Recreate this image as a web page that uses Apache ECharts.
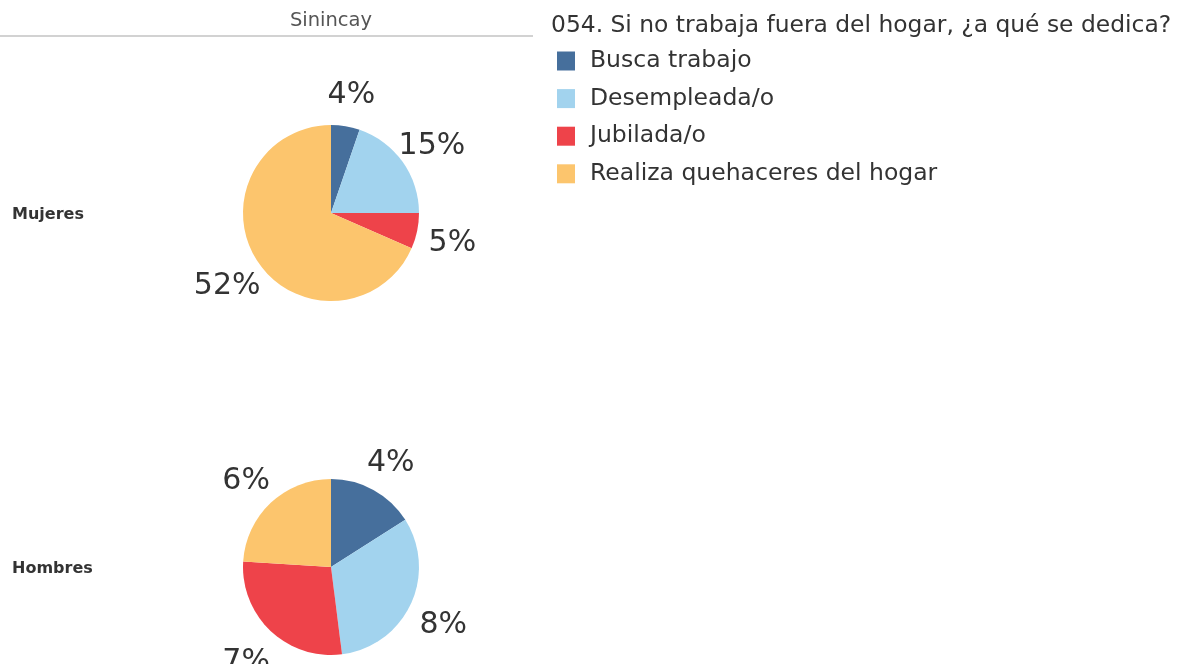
<!DOCTYPE html>
<html>
<head>
<meta charset="utf-8">
<title>054. Si no trabaja fuera del hogar</title>
<script src="https://cdn.jsdelivr.net/npm/echarts@6/dist/echarts.min.js"></script>
<style>
  html, body { margin: 0; padding: 0; background: #fff; }
  #chart { width: 1183px; height: 664px; }
</style>
</head>
<body>
<div id="chart"></div>
<script>
// Survey question, column header and row groups
const questionTitle = '054. Si no trabaja fuera del hogar, ¿a qué se dedica?';
const columnHeader = 'Sinincay';
const groups = ['Mujeres', 'Hombres'];

// Answer categories and their colours
const categories = ['Busca trabajo', 'Desempleada/o', 'Jubilada/o', 'Realiza quehaceres del hogar'];
const colors = ['#466f9c', '#a2d3ee', '#ee434a', '#fcc56d'];

// Share of all respondents (%) per answer, one array per group
const mujeresValues = [4, 15, 5, 52];
const hombresValues = [4, 8, 7, 6];
const groupValues = [mujeresValues, hombresValues];

const FONT = 'DejaVu Sans';
const pieCenters = [[331, 213], [331, 567]];
const pieRadius = 88;
const labelRadius = 124;

const chart = echarts.init(document.getElementById('chart'));

// Place each value label on its slice's bisector, just outside the pie
function radialLabel(params) {
  const vals = groupValues[params.seriesIndex];
  const total = vals.reduce((a, b) => a + b, 0);
  let before = 0;
  for (let i = 0; i < params.dataIndex; i++) before += vals[i];
  const mid = (before + vals[params.dataIndex] / 2) / total * Math.PI * 2;
  const c = pieCenters[params.seriesIndex];
  return {
    x: c[0] + labelRadius * Math.sin(mid),
    y: c[1] - labelRadius * Math.cos(mid) + 5,
    align: 'center',
    verticalAlign: 'middle'
  };
}

const series = groups.map((g, gi) => ({
  name: g,
  type: 'pie',
  center: pieCenters[gi],
  radius: [0, pieRadius],
  startAngle: 90,
  clockwise: true,
  avoidLabelOverlap: false,
  silent: true,
  itemStyle: { borderWidth: 0 },
  label: {
    show: true,
    position: 'outside',
    formatter: '{c}%',
    fontFamily: FONT,
    fontSize: 30,
    color: '#333333'
  },
  labelLine: { show: false },
  labelLayout: radialLabel,
  data: categories.map((c, i) => ({ name: c, value: groupValues[gi][i] }))
}));

chart.setOption({
  animation: false,
  color: colors,
  title: {
    text: questionTitle,
    left: 551, top: 14,
    padding: 0,
    textStyle: { fontFamily: FONT, fontSize: 23.4, fontWeight: 'normal', color: '#333333' }
  },
  legend: {
    orient: 'vertical',
    left: 557, top: 49,
    padding: 0,
    icon: 'rect',
    itemWidth: 18, itemHeight: 19,
    itemGap: 13.6,
    selectedMode: false,
    data: categories,
    textStyle: { fontFamily: FONT, fontSize: 23.5, color: '#333333', padding: [0, 0, 0, 10] }
  },
  graphic: [
    {
      type: 'line',
      shape: { x1: 0, y1: 36, x2: 533, y2: 36 },
      style: { stroke: '#d2d2d2', lineWidth: 2 },
      silent: true
    },
    {
      type: 'text', x: 331, y: 21, silent: true,
      style: { text: columnHeader, font: 'normal 19.5px "DejaVu Sans"', fill: '#555555', align: 'center', verticalAlign: 'middle' }
    },
    {
      type: 'text', x: 12, y: 215, silent: true,
      style: { text: groups[0], font: 'bold 16px "DejaVu Sans"', fill: '#333333', align: 'left', verticalAlign: 'middle' }
    },
    {
      type: 'text', x: 12, y: 569, silent: true,
      style: { text: groups[1], font: 'bold 16px "DejaVu Sans"', fill: '#333333', align: 'left', verticalAlign: 'middle' }
    }
  ],
  series: series
});
</script>
</body>
</html>
